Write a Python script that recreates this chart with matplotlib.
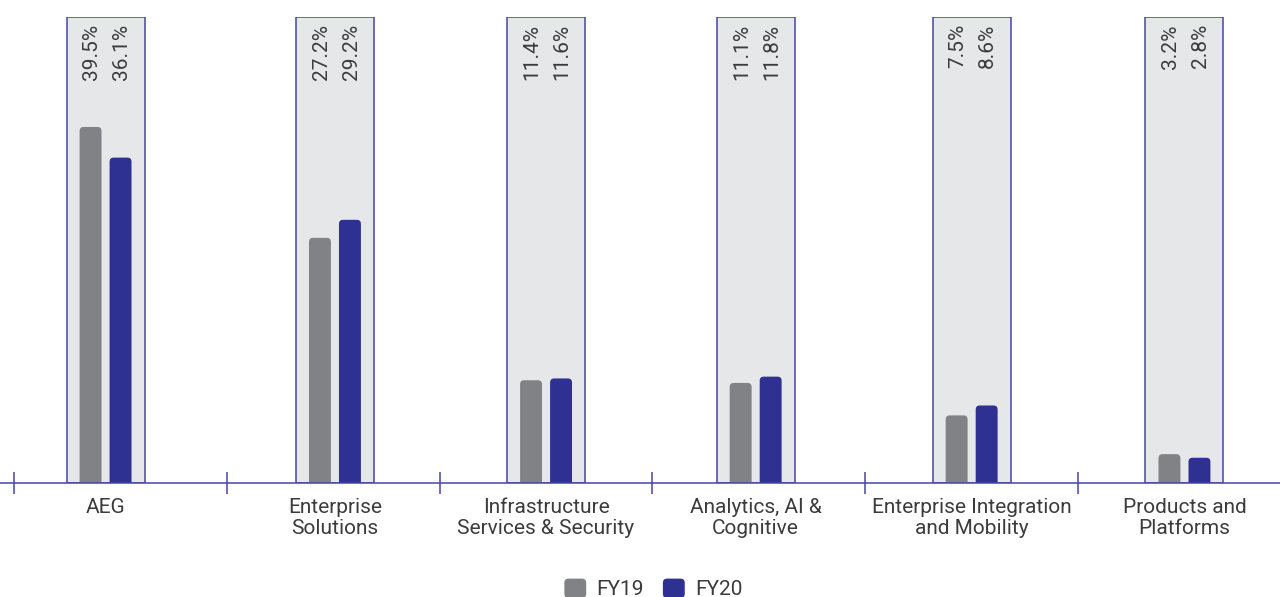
import matplotlib.pyplot as plt
from matplotlib.patches import FancyBboxPatch, Rectangle
from matplotlib.legend_handler import HandlerPatch

plt.rcParams['font.family'] = ['Roboto', 'DejaVu Sans']

categories = ['AEG', 'Enterprise\nSolutions', 'Infrastructure\nServices & Security',
              'Analytics, AI &\nCognitive', 'Enterprise Integration\nand Mobility',
              'Products and\nPlatforms']
fy19 = [39.5, 27.2, 11.4, 11.1, 7.5, 3.2]
fy20 = [36.1, 29.2, 11.6, 11.8, 8.6, 2.8]

grey = '#808285'
navy = '#2E3092'
panel_fill = '#E6E7E8'
line_col = '#4547A3'
text_col = '#3c3c3c'

fig = plt.figure(figsize=(12.8, 5.97), dpi=100)
ax = fig.add_axes([0, 114 / 597, 1, 466 / 597])

ymax = 51.7
ax.set_ylim(0, ymax)
ax.set_xlim(-0.566, 5.449)

# group panels are not exactly centred in their slots
centers = [-0.07, 1.008, 2.0, 2.985, 4.0, 5.0]

bar_w = 0.103
off = 0.0705
panel_w = 0.3665
r = 0.019
asp = (ymax / 466) / (1 / 212.8)


def rounded_bar(x, h, color):
    p = FancyBboxPatch((x - bar_w / 2, -2), bar_w, h + 2,
                       boxstyle=f'round,pad=0,rounding_size={r}',
                       mutation_aspect=asp, fc=color, ec='none', zorder=3)
    ax.add_patch(p)


for c, a, b in zip(centers, fy19, fy20):
    ax.add_patch(Rectangle((c - panel_w / 2, 0), panel_w, ymax - 0.05,
                           fc=panel_fill, ec=line_col, lw=1.1, zorder=1))
    rounded_bar(c - off, a, grey)
    rounded_bar(c + off, b, navy)
    for x, v in ((c - off, a), (c + off, b)):
        ax.text(x + 0.005, 50.9, f'{v}%', rotation=90, ha='center', va='top',
                fontsize=15, color=text_col, zorder=4)

for s in ('top', 'right', 'left'):
    ax.spines[s].set_visible(False)
ax.spines['bottom'].set_color(line_col)
ax.spines['bottom'].set_linewidth(1.1)
ax.spines['bottom'].set_zorder(5)
ax.set_yticks([])

ax.set_xticks([i - 0.5 for i in range(len(categories))])
ax.set_xticklabels([])
ax.tick_params(axis='x', which='major', direction='inout', length=16.5,
               width=1.1, color=line_col)
ax.set_xticks(centers, minor=True)
ax.set_xticklabels(categories, minor=True, fontsize=15, color=text_col,
                   linespacing=1.12)
ax.tick_params(axis='x', which='minor', length=0, pad=11)
ax.patch.set_visible(False)


class RoundHandler(HandlerPatch):
    def create_artists(self, legend, orig_handle, xdescent, ydescent,
                       width, height, fontsize, trans):
        p = FancyBboxPatch((-xdescent, -ydescent), width, height,
                           boxstyle='round,pad=0,rounding_size=3',
                           fc=orig_handle.get_facecolor(), ec='none',
                           transform=trans)
        return [p]


h1 = Rectangle((0, 0), 1, 1, fc=grey)
h2 = Rectangle((0, 0), 1, 1, fc=navy)
leg = fig.legend([h1, h2], ['FY19', 'FY20'], loc='center',
                 bbox_to_anchor=(0.5105, 8 / 597), ncol=2, frameon=False,
                 handlelength=1.05, handleheight=1.05, handletextpad=0.5,
                 columnspacing=0.9, handler_map={Rectangle: RoundHandler()},
                 prop={'size': 15})
for t in leg.get_texts():
    t.set_color(text_col)

fig.savefig('out.png', dpi=100)
